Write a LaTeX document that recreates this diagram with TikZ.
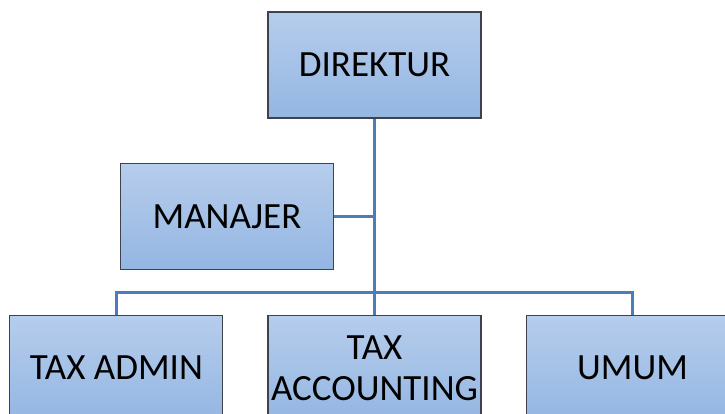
\documentclass[tikz,border=0pt]{standalone}
\usepackage{fontspec}
\setmainfont{Carlito}
\usepackage{tikz}
\usetikzlibrary{positioning}
\usepackage{xcolor}
\definecolor{boxtop}{RGB}{182,205,236}
\definecolor{boxbot}{RGB}{148,182,226}
\definecolor{boxline}{RGB}{62,66,74}
\definecolor{linkblue}{RGB}{74,126,187}
\tikzstyle{unit} = [rectangle, minimum width=213pt, minimum height=106pt, inner sep=0pt, text centered, align=center, draw=boxline, line width=1.1pt, top color=boxtop, bottom color=boxbot, font=\fontsize{37}{41}\selectfont]
\tikzstyle{link} = [draw=linkblue, line width=2.6pt]
\begin{document}
\begin{tikzpicture}[x=1pt,y=1pt]
\useasboundingbox (0,0) rectangle (725,414);

% Nodes
\node (direktur) [unit] at (374.5,349) {DIREKTUR};
\node (manajer) [unit] at (227,197.5) {MANAJER};
\node (taxacc) [unit, below=196pt of direktur] {TAX\\ACCOUNTING};
\node (taxadmin) [unit, left=44pt of taxacc] {TAX ADMIN};
\node (umum) [unit, right=44pt of taxacc] {UMUM};
\coordinate [above=22pt of taxacc.north] (bus);

% Lines
\draw [link] (direktur.south) -- (taxacc.north);
\draw [link] (manajer.east) -- (manajer.east -| direktur.south);
\draw [link] (taxadmin.north) |- (bus) -| (umum.north);

\end{tikzpicture}
\end{document}
